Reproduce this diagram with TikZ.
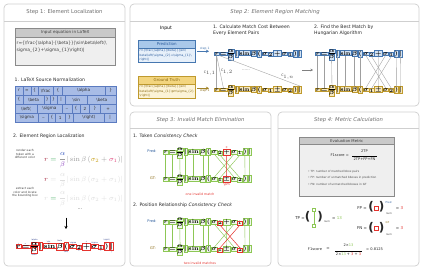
\documentclass[tikz,border=0pt]{standalone}
\usepackage[no-math]{fontspec}
\setmainfont{DejaVu Sans}
\usetikzlibrary{calc,arrows.meta}
\definecolor{panelc}{HTML}{CFCFCF}
\definecolor{titlec}{HTML}{6E6E6E}
\definecolor{tokf}{HTML}{A8BCE6}
\definecolor{tokd}{HTML}{5B7BC0}
\definecolor{pdraw}{HTML}{4677B0}
\definecolor{phead}{HTML}{A9C8EA}
\definecolor{pbody}{HTML}{E7F0FA}
\definecolor{ptext}{HTML}{2A5B9C}
\definecolor{gdraw}{HTML}{BF9A2E}
\definecolor{ghead}{HTML}{F3D57E}
\definecolor{gbody}{HTML}{FCF3D6}
\definecolor{gtext}{HTML}{8A6912}
\definecolor{grn}{HTML}{8DC755}
\definecolor{rd}{HTML}{E5322D}
\definecolor{lblc}{HTML}{2C3E8C}
\definecolor{boxhead}{HTML}{C9C9C9}
\definecolor{boxbody}{HTML}{EFEFEF}
\definecolor{boxdraw}{HTML}{8A8A8A}
\definecolor{fadec}{HTML}{DDDDDD}
\definecolor{cr}{HTML}{A6263E}
\definecolor{cg}{HTML}{3DAA5C}
\definecolor{cb}{HTML}{3355C0}
\definecolor{cp}{HTML}{8E44C2}
\definecolor{cgray}{HTML}{9A9A9A}
\definecolor{co}{HTML}{C9A21E}
\definecolor{cpk}{HTML}{E0457B}
\newcommand{\bs}{\textbackslash}
% formula with boxed tokens: #1 prefix, #2 base point, #3 box style, #4 sub1, #5 op, #6 sub2
\newcommand{\fml}[6]{%
 \node[#3,anchor=base west] (#1r) at (#2) {$r$};
 \node[#3,anchor=base west] (#1eq) at ([xshift=0.45pt]#1r.base east) {$=$};
 \coordinate (#1ax) at ([xshift=0.5pt,yshift=1.65pt]#1eq.base east);
 \node[#3,anchor=south west] (#1a) at ([yshift=0.4pt]#1ax) {$\alpha$};
 \node[#3,anchor=north west] (#1b) at ([yshift=-0.4pt]#1ax) {$\beta$};
 \draw[fbar] (#1ax) -- (#1ax -| #1a.east);
 \node[#3,anchor=base west] (#1v) at ($(#1a.east |- #1r.base)+(0.5,0)$) {$|$};
 \node[#3,anchor=base west] (#1sin) at ([xshift=0.45pt]#1v.base east) {$\sin$};
 \node[#3,anchor=base west] (#1be) at ([xshift=0.45pt]#1sin.base east) {$\beta$};
 \node[#3,anchor=base west] (#1lp) at ([xshift=0.45pt]#1be.base east) {$($};
 \node[#3,anchor=base west] (#1s) at ([xshift=0.45pt]#1lp.base east) {$\sigma$};
 \node[#3,fsub,anchor=base west] (#1sa) at ([xshift=0.2pt,yshift=-1.1pt]#1s.base east) {$#4$};
 \node[#3,anchor=base west] (#1op) at ($(#1sa.east |- #1r.base)+(0.45,0)$) {$#5$};
 \node[#3,anchor=base west] (#1t) at ([xshift=0.45pt]#1op.base east) {$\sigma$};
 \node[#3,fsub,anchor=base west] (#1tb) at ([xshift=0.2pt,yshift=-1.1pt]#1t.base east) {$#6$};
 \node[#3,anchor=base west] (#1rp) at ($(#1tb.east |- #1r.base)+(0.45,0)$) {$)$};
 \node[#3,anchor=base west] (#1w) at ([xshift=0.45pt]#1rp.base east) {$|$};
}
\begin{document}
\begin{tikzpicture}[x=1pt,y=-1pt,
 panel/.style={draw=panelc, line width=0.7pt, rounded corners=4pt, fill=white},
 psep/.style={draw=panelc, line width=0.5pt},
 ptitle/.style={font=\fontsize{5.3}{6}\selectfont\itshape, text=titlec, inner sep=0},
 subhead/.style={font=\fontsize{4.6}{5.6}\selectfont, anchor=west, inner sep=0, text=black!85, align=left},
 small/.style={font=\fontsize{2.9}{3.5}\selectfont, inner sep=0, align=center, text=black!75},
 tok/.style={draw=tokd, fill=tokf, line width=0.4pt, inner sep=0, minimum height=9pt, anchor=north west, font=\fontsize{4.2}{4.5}\selectfont, text=black!80},
 fm/.style={font=\fontsize{6.4}{6.4}\selectfont\boldmath},
 fsub/.style={font=\fontsize{4.6}{4.6}\selectfont\boldmath},
 bxP/.style={fm, draw=pdraw, fill=phead, fill opacity=0.5, text opacity=1, inner sep=0.35pt, line width=0.35pt},
 bxG/.style={fm, draw=gdraw, fill=ghead, fill opacity=0.5, text opacity=1, inner sep=0.35pt, line width=0.35pt},
 bxR/.style={fm, draw=rd, inner sep=0.35pt, line width=0.35pt},
 bxV/.style={fm, draw=grn, fill=grn!12, inner sep=0.35pt, line width=0.4pt},
 fbar/.style={line width=0.4pt},
 cline/.style={draw=gray!70, line width=0.4pt},
 clab/.style={font=\fontsize{3.2}{4}\selectfont, text=black!70, inner sep=0.8pt},
 mline/.style={draw=gray!75, line width=0.35pt},
 gline/.style={draw=grn, line width=0.45pt},
 rline/.style={draw=rd, line width=0.5pt},
 rdtxt/.style={font=\fontsize{3.2}{4}\selectfont, text=rd, inner sep=0.3pt},
 lbl/.style={font=\fontsize{1.7}{1.9}\selectfont, text=lblc, inner sep=0.15pt},
 s4/.style={font=\fontsize{4}{5}\selectfont, inner sep=0, text=black!85},
 s4sub/.style={font=\fontsize{2.6}{3}\selectfont, inner sep=0, text=black!75},
 paren/.style={font=\fontsize{12}{12}\selectfont\bfseries, inner sep=0, text=black!85},
 gsq/.style={draw=grn, line width=0.6pt, fill=white, minimum size=3.4pt, inner sep=0},
 rsq/.style={draw=rd, line width=0.6pt, fill=white, minimum size=3.6pt, inner sep=0},
 bul/.style={font=\fontsize{2.8}{3}\selectfont, inner sep=0, anchor=west, text=black!70},
 hdr/.style={minimum height=7.5pt, inner sep=0, anchor=north west, font=\fontsize{4}{5}\selectfont},
]
\useasboundingbox (0,0) rectangle (423,271);
\fill[white] (0,0) rectangle (423,271);

% ---------------- panels
\draw[panel] (4,4) rectangle (125,266);
\draw[psep] (4,21) -- (125,21);
\node[ptitle, font=\fontsize{5.3}{6}\selectfont] (t1) at (64.5,12.5) {Step 1: Element Localization};
\draw[panel] (130,4) rectangle (419,106);
\draw[psep] (130,21) -- (419,21);
\node[ptitle] (t2) at (275,12.5) {Step 2: Element Region Matching};
\draw[panel] (130,112) rectangle (271,266);
\draw[psep] (130,128) -- (271,128);
\node[ptitle] (t3) at (200.5,120) {Step 3: Invalid Match Elimination};
\draw[panel] (278,112) rectangle (419,266);
\draw[psep] (278,128) -- (419,128);
\node[ptitle] (t4) at (348.5,120) {Step 4: Metric Calculation};

% ---------------- Step 1
\node[draw=boxdraw, fill=boxbody, line width=0.5pt, minimum width=100pt, minimum height=37pt, inner sep=0, anchor=north west] (ibox) at (15,28) {};
\node[hdr, draw=boxdraw, fill=boxhead, line width=0.5pt, minimum width=100pt, minimum height=9pt, font=\fontsize{4.1}{5}\selectfont, text=black!75] (ihd) at (15,28) {Input equation in LaTeX};
\node[anchor=north west, inner sep=0, align=left, font=\fontsize{4.4}{7.6}\selectfont, text=black!75] (itx) at (16.5,40.5) {r=\{\bs frac\{\bs alpha\}\{\bs beta\}\}|\bs sin\bs beta\bs left(\bs\\sigma\_\{2\}+\bs sigma\_\{1\}\bs right)|};

\node[subhead] (h11) at (14.5,80) {1. LaTeX Source Normalization};
\foreach \a/\b/\t [count=\i] in {15/22.7/r,22.7/30.7/=,30.7/37.7/\{,37.7/53.3/\bs frac,53.3/62/\{,62/105/\bs alpha,105/116/\}}
  \node[tok, minimum width={(\b-\a)*1pt}] (ta\i) at (\a,86) {\t};
\foreach \a/\b/\t [count=\i] in {15/22.7/\{,22.7/44/\bs beta,44/50/\},50/56.7/\},56.7/65/|,65/87.3/\bs sin,87.3/116/\bs beta}
  \node[tok, minimum width={(\b-\a)*1pt}] (tb\i) at (\a,95) {\t};
\foreach \a/\b/\t [count=\i] in {15/36.7/\bs left(,36.7/61.7/\bs sigma,61.7/71.7/\_,71.7/80/\{,80/89.3/2,89.3/100/\},100/116/+}
  \node[tok, minimum width={(\b-\a)*1pt}] (tc\i) at (\a,104) {\t};
\foreach \a/\b/\t [count=\i] in {15/38.3/\bs sigma,38.3/48.3/\_,48.3/55/\{,55/65/1,65/73.3/\},73.3/104/\bs right),104/116/|}
  \node[tok, minimum width={(\b-\a)*1pt}] (td\i) at (\a,113) {\t};

\node[subhead] (h12) at (13,136.5) {2. Element Region Localization};
\node[small] (rn1) at (25,154) {render each\\token with a\\different color};
\node[anchor=base west, inner sep=0, font=\fontsize{7.1}{8}\selectfont] (cf1) at (44,161)
 {$\color{cr}r\color{cg}=\color{cgray}{\displaystyle\frac{\color{cb}\alpha}{\color{cp}\beta}}|\sin\beta\,(\color{co}\sigma_2\color{cgray}+\color{cpk}\sigma_1\color{cgray})|$};
\node[anchor=base west, inner sep=0, font=\fontsize{7.1}{8}\selectfont] (cf2) at (44,181.5)
 {$\color{cr}r\color{fadec}={\displaystyle\frac{\alpha}{\beta}}|\sin\beta\,(\sigma_2+\sigma_1)|$};
\node[small] (rn2) at (25,192.5) {extract each\\color and locate\\the bounding box};
\node[anchor=base west, inner sep=0, font=\fontsize{7.1}{8}\selectfont] (cf3) at (44,200)
 {$\color{fadec}r\color{cg}=\color{fadec}{\displaystyle\frac{\alpha}{\beta}}|\sin\beta\,(\sigma_2+\sigma_1)|$};
\node[font=\fontsize{5}{5}\selectfont, text=black!60, inner sep=0] (dots1) at (80,209) {...};
\coordinate (ar1) at (66,217.5);
\coordinate (ar2) at (66,229);
\draw[-{Stealth[length=3pt,width=3pt]}, line width=0.8pt] (ar1) -- (ar2);

\begin{scope}[shift={(15.5,248)}, scale=1.12, transform shape]
 \fml{B}{0,0}{bxR}{2}{+}{1}
 \node[lbl, above] (l1) at (Br.north) {r};
 \node[lbl, above] (l2) at ([xshift=-0.5pt]Beq.north) {=};
 \node[lbl, above] (l3) at (Ba.north) {\bs alpha};
 \node[lbl, below] (l4) at (Bb.south) {\bs beta};
 \node[lbl, above] (l5) at ([xshift=-0.8pt]Bsin.north) {\bs sin};
 \node[lbl, above] (l6) at ([yshift=0.9pt]Bbe.north) {\bs beta};
 \node[lbl, below] (l7) at (Blp.south) {\bs left(};
 \node[lbl, above] (l8) at ([xshift=0.6pt]Bs.north) {\bs sigma};
 \node[lbl, below] (l9) at (Bsa.south) {2};
 \node[lbl, above] (l10) at (Bop.north) {+};
 \node[lbl, above] (l11) at (Bt.north) {\bs sigma};
 \node[lbl, below] (l12) at (Btb.south) {1};
 \node[lbl, above] (l13) at ([yshift=0.9pt]Brp.north) {\bs right)};
 \node[lbl, below] (l14) at (Bw.south) {|};
\end{scope}

% ---------------- Step 2
\node[font=\fontsize{4.6}{6}\selectfont, inner sep=0] (inp) at (166,28.5) {Input};
\node[draw=pdraw, fill=pbody, line width=0.5pt, minimum width=57pt, minimum height=22pt, inner sep=0, anchor=north west] (pbox) at (138,40) {};
\node[hdr, draw=pdraw, fill=phead, line width=0.5pt, minimum width=57pt, text=ptext] (phd) at (138,40) {Prediction};
\node[anchor=north west, inner sep=0, align=left, font=\fontsize{3}{4.6}\selectfont, text=ptext] (ptx) at (139.5,49.3) {r=\{\bs frac\{\bs alpha\}\{\bs beta\}\}|\bs sin\bs\\beta\bs left(\bs sigma\_\{2\}+\bs sigma\_\{1\}\bs\\right)|};
\node[draw=gdraw, fill=gbody, line width=0.5pt, minimum width=57pt, minimum height=22pt, inner sep=0, anchor=north west] (gbox) at (138,76) {};
\node[hdr, draw=gdraw, fill=ghead, line width=0.5pt, minimum width=57pt, text=gtext] (ghd) at (138,76) {Ground Truth};
\node[anchor=north west, inner sep=0, align=left, font=\fontsize{3}{4.6}\selectfont, text=gtext] (gtx) at (139.5,85.3) {r=\{\bs frac\{\bs alpha\}\{\bs beta\}\}|\bs sin\bs\\beta\bs left(\bs sigma\_\{1\}\bs pm\bs sigma\_\{2\}\\\bs right)|};

\node[subhead] (h21) at (213,30.5) {1. Calculate Match Cost Between\\Every Element Pairs};
\fml{P}{214,55}{bxP}{2}{+}{1}
\fml{G}{214,91}{bxG}{1}{\pm}{2}
\draw[-{Stealth[length=3pt,width=3pt]}, pdraw, line width=1pt, shorten <=1.5pt, shorten >=5pt] (pbox.east) -- node[above, font=\fontsize{3}{3}\selectfont, text=pdraw, inner sep=1pt] (st1) {step 1} (pbox.east -| Pr.west);
\draw[-{Stealth[length=3pt,width=3pt]}, gdraw!85!black, line width=1pt, shorten <=1.5pt, shorten >=5pt] ([yshift=-1pt]gbox.east) -- node[below, font=\fontsize{3}{3}\selectfont, text=gtext, inner sep=1pt] (st2) {step 1} ([yshift=-1pt]gbox.east -| Gr.west);
\draw[cline] (Pr.south) -- node[clab, left, pos=0.55] (c11) {C$_{1,1}$} (Gr.north);
\draw[cline] (Pr.south) -- node[clab, right, pos=0.5] (c12) {C$_{1,2}$} (Geq.north);
\draw[cline] (Pr.south east) -- node[clab, above, pos=0.85, yshift=1pt] (c1n) {C$_{1,n}$} (Gw.north);
\node[font=\fontsize{4}{4}\selectfont, text=black!55, inner sep=0] (dots2) at (246,70) {......};
\coordinate (m1) at (302,70);
\coordinate (m2) at (313,70);
\draw[-{Stealth[length=2.5pt,width=2.5pt]}, gray, line width=0.6pt] (m1) -- (m2);
\node[subhead] (h22) at (314,30.5) {2. Find the Best Match by\\Hungarian Algorithm};
\fml{H}{315,55}{bxP}{2}{+}{1}
\fml{K}{315,91}{bxG}{1}{\pm}{2}
\foreach \p/\q in {r/r,eq/eq,b/a,v/v,sin/sin,be/be,lp/lp,s/t,sa/tb,op/op,t/s,tb/sa,rp/rp,w/w}
  \draw[mline] (H\p.south) -- (K\q.north);

% ---------------- Step 3
\node[subhead] (h31) at (133,136.5) {1. Token \textit{Consistency Check}};
\node[font=\fontsize{3.6}{4}\selectfont, text=ptext, inner sep=0] (pl1) at (152,151) {Pred:};
\node[font=\fontsize{3.6}{4}\selectfont, text=gtext, inner sep=0] (gl1) at (153,178) {GT:};
\fml{T}{163,153.5}{bxV}{2}{+}{1}
\fml{U}{163,180.5}{bxV}{1}{\pm}{2}
\foreach \p/\q in {r/r,eq/eq,b/a,v/v,sin/sin,be/be,lp/lp,s/t,sa/tb,t/s,tb/sa,rp/rp,w/w}
  \draw[gline] (T\p.south) -- (U\q.north);
\draw[rline] (Top.south) -- (Uop.north);
\draw[rline] (Top.south west) rectangle (Top.north east);
\draw[rline] (Uop.south west) rectangle (Uop.north east);
\node[rdtxt, above] (rplus) at (Top.north) {+};
\node[rdtxt, below] (rpm) at (Uop.south) {\bs pm};
\node[rdtxt] (inv1) at (200,194) {one invalid match};

\node[subhead] (h32) at (133,205.5) {2. Position Relationship \textit{Consistency Check}};
\node[font=\fontsize{3.6}{4}\selectfont, text=ptext, inner sep=0] (pl2) at (152,221) {Pred:};
\node[font=\fontsize{3.6}{4}\selectfont, text=gtext, inner sep=0] (gl2) at (153,248) {GT:};
\fml{V}{163,223.5}{bxV}{2}{+}{1}
\fml{W}{163,250.5}{bxV}{1}{\pm}{2}
\foreach \p/\q in {r/r,eq/eq,b/a,v/v,sin/sin,be/be,lp/lp,s/t,op/op,t/s,rp/rp,w/w}
  \draw[gline] (V\p.south) -- (W\q.north);
\draw[rline] (Vsa.south) -- (Wtb.north);
\draw[rline] (Vtb.south) -- (Wsa.north);
\foreach \n in {Vsa,Vtb,Wsa,Wtb}
  \draw[rline] (\n.south west) rectangle (\n.north east);
\node[rdtxt] (inv2) at (200,263) {two invalid matches};

% ---------------- Step 4
\node[draw=boxdraw, fill=boxbody, line width=0.5pt, minimum width=95pt, minimum height=59pt, inner sep=0, anchor=north west] (ebox) at (299,137) {};
\node[hdr, draw=boxdraw, fill=boxhead, line width=0.5pt, minimum width=95pt, minimum height=7pt, font=\fontsize{3.8}{5}\selectfont, text=black!75] (ehd) at (299,137) {Evaluation Metric};
\node[s4, font=\fontsize{3.6}{4}\selectfont, anchor=east] (ef) at (349,155) {F1score =};
\node[s4, font=\fontsize{3.6}{4}\selectfont] (en) at (364.5,151.3) {2TP};
\node[s4, font=\fontsize{3.6}{4}\selectfont] (ed) at (364.5,159) {2TP+FP+FN};
\draw[line width=0.35pt] ([yshift=1.2pt, xshift=-1pt]ed.north west) -- ([yshift=1.2pt, xshift=1pt]ed.north east);
\node[bul] (b1) at (308,171.5) {• TP: number of matched bbox pairs};
\node[bul] (b2) at (308,178) {• FP: number of unmatched bboxes in prediction};
\node[bul] (b3) at (308,184.5) {• FN: number of unmatched bboxes in GT};

\node[s4] (tp) at (300,218) {TP =};
\node[paren] (tpl) at (307.5,217) {(};
\node[paren] (tpr) at (320,217) {)};
\node[gsq] (tpa) at (313.8,209.5) {};
\node[gsq] (tpb) at (313.8,225.5) {};
\draw[gline, line width=0.6pt] (tpa) -- (tpb);
\node[s4sub] (tpn) at (327,221.5) {num};
\node[s4] (tpe) at (337,218) {= \textcolor{grn}{13}};

\node[s4] (fp) at (362,208) {FP =};
\node[paren] (fpl) at (371,207) {(};
\node[rsq] (fpb) at (376.5,208) {};
\node[paren] (fpr) at (381.5,207) {)};
\node[s4sub, text=ptext, anchor=west] (fpu) at (385.5,202.5) {Pred};
\node[s4sub, anchor=west] (fpn) at (385.8,214) {num};
\node[s4] (fpe) at (399.5,208) {= \textcolor{rd}{3}};

\node[s4] (fnl) at (362,228.5) {FN =};
\node[paren] (fnpl) at (371,227.5) {(};
\node[rsq] (fnb) at (376.5,228.5) {};
\node[paren] (fnpr) at (381.5,227.5) {)};
\node[s4sub, text=gtext, anchor=west] (fnu) at (385.5,223) {GT};
\node[s4sub, anchor=west] (fnn) at (385.8,234.5) {num};
\node[s4] (fne) at (399.5,228.5) {= \textcolor{rd}{3}};

\node[s4, font=\fontsize{3.6}{4}\selectfont] (f1) at (315,249) {F1score};
\node[s4] (f1e) at (328,249) {=};
\node[s4, font=\fontsize{3.6}{4}\selectfont] (f1n) at (348.5,245) {2×\textcolor{grn}{13}};
\node[s4, font=\fontsize{3.6}{4}\selectfont] (f1d) at (348.5,254) {2×\textcolor{grn}{13} + \textcolor{rd}{3} + \textcolor{rd}{3}};
\draw[line width=0.4pt] ([yshift=1.3pt, xshift=-1pt]f1d.north west) -- ([yshift=1.3pt, xshift=1pt]f1d.north east);
\node[s4, font=\fontsize{3.6}{4}\selectfont, anchor=west] (f1v) at (366,249) {= 0.8125};
\end{tikzpicture}
\end{document}
